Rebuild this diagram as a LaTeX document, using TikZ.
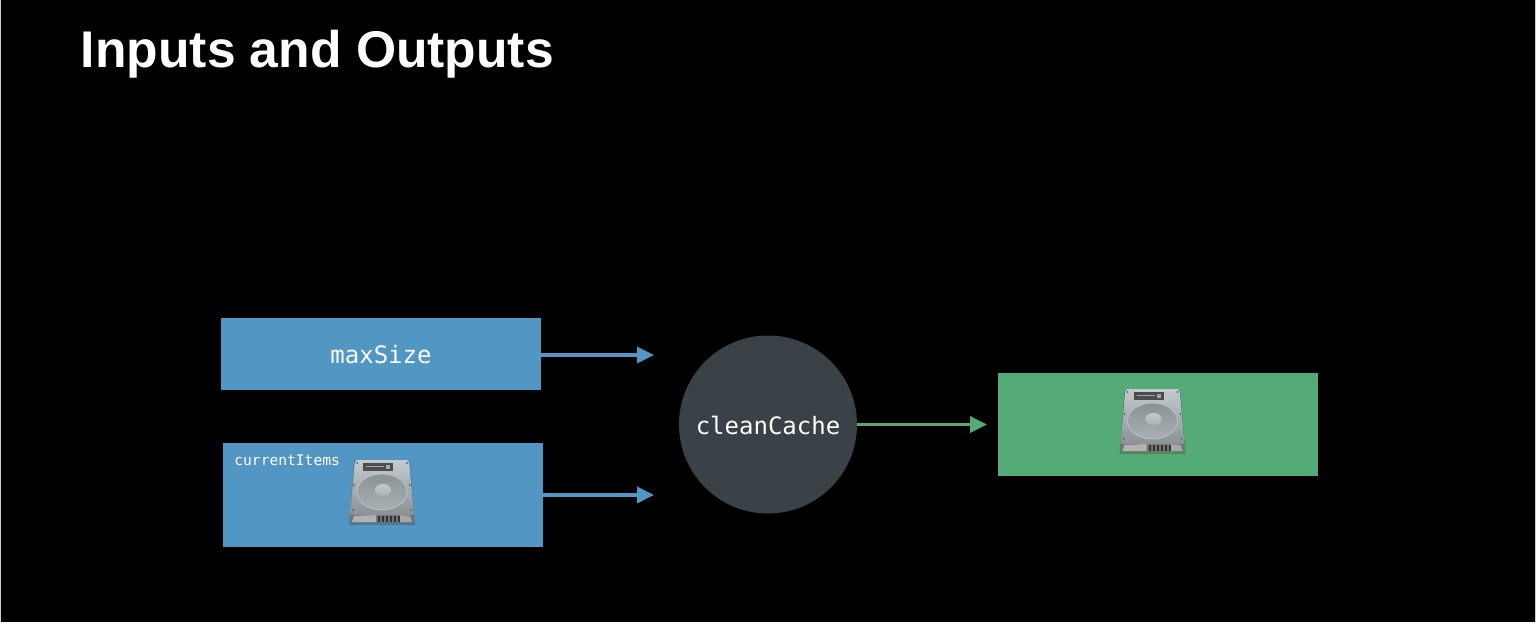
\documentclass[tikz,border=0pt]{standalone}
\usepackage{fontspec}
\setmainfont{Liberation Sans}
\setmonofont{DejaVu Sans Mono}
\usetikzlibrary{arrows.meta}
\definecolor{inblue}{HTML}{5297C3}
\definecolor{outgreen}{HTML}{55AB78}
\definecolor{funcgray}{HTML}{3A4147}
\definecolor{disktop}{HTML}{C4CBCE}
\definecolor{diskbottom}{HTML}{8A9295}
\definecolor{platter}{HTML}{A9B1B4}
\definecolor{edgegray}{HTML}{C8CBD2}
\tikzset{
 databox/.style={rectangle,inner sep=0pt,minimum width=160pt},
 diskicon/.pic={
 \fill[black,opacity=0.18] (-28,-31)--(28,-31)--(33,33)--(-33,33)--cycle;
 \fill[black!55,rounded corners=1pt] (-32,20)--(32,20)--(32,31)--(-32,31)--cycle;
 \fill[black!30] (-28,24)--(-6,23)--(-6,30)--(-30,30)--cycle;
 \fill[black!35] (18,23)--(28,24)--(30,30)--(18,30)--cycle;
 \shade[top color=disktop,bottom color=diskbottom,rounded corners=1pt] (-27,-32)--(27,-32)--(32,23)--(-32,23)--cycle;
 \shade[top color=diskbottom,bottom color=platter,draw=disktop,line width=0.3pt] (0,0) ellipse (25 and 18);
 \shade[top color=disktop,bottom color=platter] (1,-2) ellipse (8 and 6);
 \fill[black!70] (-19,-29)--(11,-29)--(11,-21)--(-19,-21)--cycle;
 \fill[black!35] (-16,-26)--(2,-26)--(2,-25)--(-16,-25)--cycle;
 \fill[black!35] (4,-27)--(8,-27)--(8,-23)--(4,-23)--cycle;
 \foreach \x/\y in {-25/-29,25/-29,-28/-7,28/-7,-29/18,29/18}
 \fill[black!60] (\x,\y) circle (1.1);
 \foreach \x in {-4,0,...,16}
 \fill[black!80] (\x,24)--(\x+2,24)--(\x+2,30)--(\x,30)--cycle;
 }
}
\begin{document}
\begin{tikzpicture}[line join=round,font=\ttfamily,>={Triangle[length=8.5pt,width=8pt]},x=0.5pt,y=-0.5pt]
 \fill[black] (0,0) rectangle (1536,622);
 \useasboundingbox (0,0) rectangle (1536,622);
 \foreach \x in {0,1535}
 \fill[edgegray] (\x,0) rectangle (\x+1,622);
 \node[anchor=base west,inner sep=0pt,text=white,font=\fontsize{25.8}{25.8}\selectfont\bfseries] (title) at (80.5,67) {Inputs and Outputs};
 \node[databox,fill=inblue,minimum height=36pt,text height=10pt,text=white,font=\ttfamily\fontsize{12}{12}\selectfont] (maxsize) at (381,354) {maxSize};
 \node[databox,fill=inblue,minimum height=52pt] (items) at (383,495) {};
 \node[anchor=west,inner sep=0pt,text=white,font=\ttfamily\fontsize{7.3}{7.3}\selectfont] (itemslabel) at (234,460) {currentItems};
 \node[circle,fill=funcgray,minimum size=89pt,inner sep=0pt,text height=10pt,text=white,font=\ttfamily\fontsize{12}{12}\selectfont] (clean) at (768,424.5) {cleanCache};
 \node[databox,fill=outgreen,minimum height=51.5pt] (result) at (1158,424.5) {};
 \pic at (382,492) {diskicon};
 \pic at (1152.5,421) {diskicon};
 \coordinate (maxtip) at (654,355);
 \coordinate (itemstip) at (654,495);
 \coordinate (resulttip) at (987,424.5);
 \draw[->,inblue,line width=1.75pt] (maxsize.east|-maxtip)--(maxtip);
 \draw[->,inblue,line width=1.75pt] (items.east|-itemstip)--(itemstip);
 \draw[->,outgreen,line width=1.75pt] (clean.east)--(resulttip);
\end{tikzpicture}
\end{document}
